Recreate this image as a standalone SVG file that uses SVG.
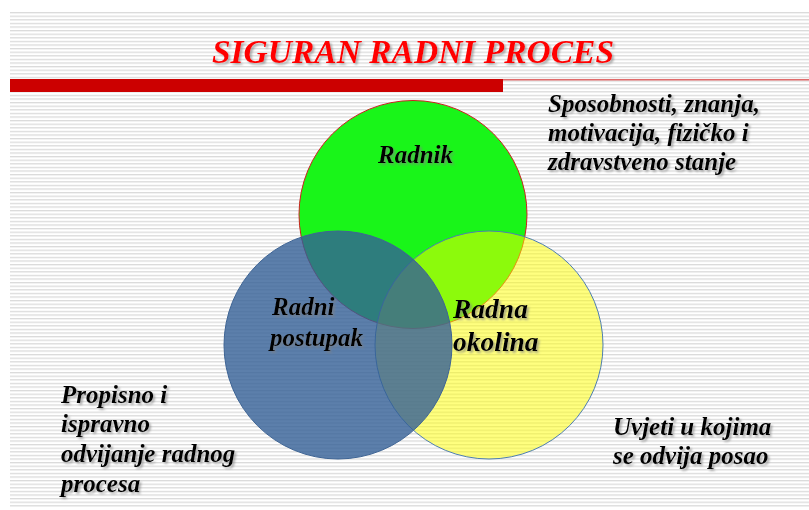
<svg xmlns="http://www.w3.org/2000/svg" width="809" height="510" viewBox="0 0 809 510">
<defs>
<pattern id="stripes" x="0" y="12" width="8" height="3.6" patternUnits="userSpaceOnUse">
<rect x="0" y="0" width="8" height="1.3" fill="#dadada"/>
</pattern>
<filter id="shadow" x="-10%" y="-30%" width="130%" height="160%">
<feDropShadow dx="2" dy="2" stdDeviation="1" flood-color="#808080" flood-opacity="0.6"/>
</filter>
</defs>
<style>
.t{font-family:"Liberation Serif","Times New Roman",serif;font-weight:bold;font-style:italic;fill:#000;filter:url(#shadow)}
.lbl{font-size:25px}
</style>
<rect width="809" height="510" fill="#ffffff"/>
<rect x="10" y="12" width="799" height="496" fill="url(#stripes)"/>
<g id="header">
<rect x="10" y="79" width="493" height="13" fill="#cc0000"/>
<rect x="503" y="79" width="306" height="1.5" fill="#e06a6a"/>
<text x="413" y="63" text-anchor="middle" style="font-family:'Liberation Serif','Times New Roman',serif;font-weight:bold;font-style:italic;font-size:33.5px;fill:#ff0000;filter:url(#shadow)">SIGURAN RADNI PROCES</text>
</g>
<g id="connectors"></g>
<g id="radnik">
<circle cx="413" cy="214.5" r="114" fill="#19f519" stroke="#cc2020" stroke-width="1"/>
</g>
<g id="radna-okolina">
<circle cx="489" cy="345" r="114" fill="#ffff00" fill-opacity="0.5" stroke="#4f7fb0" stroke-width="1"/>
</g>
<g id="radni-postupak">
<circle cx="338" cy="345" r="114" fill="#335f96" fill-opacity="0.8" stroke="#3f6595" stroke-width="1"/>
</g>
<g id="labels">
<text class="t lbl" x="378" y="163">Radnik</text>
<text class="t lbl" x="272" y="315">Radni</text>
<text class="t lbl" x="270" y="346">postupak</text>
<text class="t" style="font-size:27.5px" x="453" y="318">Radna</text>
<text class="t" style="font-size:27.5px" x="453" y="351">okolina</text>
</g>
<g id="desc-radnik">
<text class="t lbl" x="548" y="112">Sposobnosti, znanja,</text>
<text class="t lbl" x="548" y="141">motivacija, fizičko i</text>
<text class="t lbl" x="548" y="170">zdravstveno stanje</text>
</g>
<g id="desc-postupak">
<text class="t lbl" x="61" y="403">Propisno i</text>
<text class="t lbl" x="61" y="432">ispravno</text>
<text class="t lbl" x="61" y="462">odvijanje radnog</text>
<text class="t lbl" x="61" y="492">procesa</text>
</g>
<g id="desc-okolina">
<text class="t lbl" x="613" y="435">Uvjeti u kojima</text>
<text class="t lbl" x="613" y="464">se odvija posao</text>
</g>
</svg>
